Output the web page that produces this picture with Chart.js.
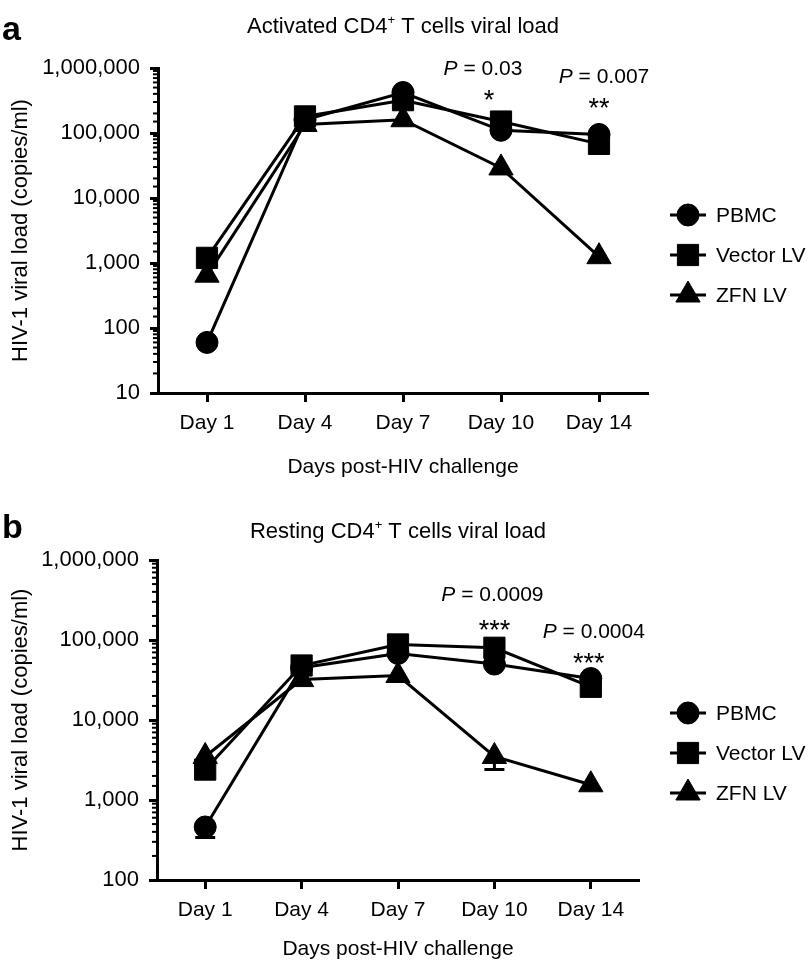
<!DOCTYPE html>
<html>
<head>
<meta charset="utf-8">
<script src="https://cdn.jsdelivr.net/npm/chart.js@4.4.1/dist/chart.umd.min.js"></script>
<style>
  body { margin: 0; background: #fff; }
  #wrap { position: relative; width: 812px; height: 966px; }
  canvas { position: absolute; left: 0; }
</style>
</head>
<body>
<div id="wrap">
  <canvas id="chartA" width="812" height="480" style="top:0"></canvas>
  <canvas id="chartB" width="812" height="486" style="top:480px"></canvas>
</div>
<script>
// categories + series names
const days = ['Day 1', 'Day 4', 'Day 7', 'Day 10', 'Day 14'];
const seriesNames = ['PBMC', 'Vector LV', 'ZFN LV'];
const seriesShapes = ['circle', 'rect', 'triangle'];

// a: activated CD4+ T cells (copies/ml)
const activatedPBMC = [60, 160000, 420000, 110000, 95000];
const activatedVector = [1200, 180000, 320000, 150000, 68000];
const activatedZFN = [650, 135000, 160000, 29000, 1250];
const activatedMin = 10;
const activatedP = ['0.03', '0.007'];
const activatedStars = ['*', '**'];

// b: resting CD4+ T cells (copies/ml)
const restingPBMC = [460, 45000, 68000, 50000, 33000];
const restingVector = [2400, 48000, 88000, 80000, 26000];
const restingZFN = [3500, 32000, 36000, 3500, 1550];
const restingPBMCLow = [340, null, null, null, null];   // lower error bar
const restingZFNLow = [null, null, null, 2400, null];
const restingMin = 100;
const restingP = ['0.0009', '0.0004'];
const restingStars = ['***', '***'];

const yMax = 1000000;
const starDays = [3, 4]; // Day 10, Day 14

const FAM = '"Liberation Sans", Arial, Helvetica, sans-serif';
Chart.defaults.font.family = FAM;
Chart.defaults.color = '#000';

const pointRadii = { circle: 11, rect: 15, triangle: 14 };

function isPow10(v) {
  const l = Math.log10(v);
  return Math.abs(l - Math.round(l)) < 1e-9;
}

function drawMarker(ctx, style, x, y) {
  const r = pointRadii[style];
  if (Chart.helpers && Chart.helpers.drawPoint) {
    Chart.helpers.drawPoint(ctx, { pointStyle: style, radius: r, rotation: 0, borderWidth: 1 }, x, y);
    return;
  }
  ctx.beginPath();
  if (style === 'circle') ctx.arc(x, y, r, 0, Math.PI * 2);
  else if (style === 'rect') { const s = r * Math.SQRT1_2; ctx.rect(x - s, y - s, 2 * s, 2 * s); }
  else { ctx.moveTo(x, y - r); ctx.lineTo(x + r * 0.866, y + r / 2); ctx.lineTo(x - r * 0.866, y + r / 2); ctx.closePath(); }
  ctx.fill(); ctx.stroke();
}

function makeDataset(label, values, shape, low) {
  return {
    label: label,
    data: values,
    errLow: low || null,
    borderColor: '#000',
    backgroundColor: '#000',
    borderWidth: 3,
    tension: 0,
    pointStyle: shape,
    pointRadius: pointRadii[shape],
    pointHoverRadius: pointRadii[shape],
    pointBackgroundColor: '#000',
    pointBorderColor: '#000',
    pointBorderWidth: 1
  };
}

// error bars (lower caps), minor log ticks, titles, annotations, legend
const decorPlugin = {
  id: 'decor',
  beforeDatasetsDraw(chart) {
    const ctx = chart.ctx, x = chart.scales.x, y = chart.scales.y;
    ctx.save();
    ctx.strokeStyle = '#000';
    ctx.lineWidth = 3;
    chart.data.datasets.forEach(ds => {
      if (!ds.errLow) return;
      ds.errLow.forEach((lo, i) => {
        if (lo == null) return;
        const px = x.getPixelForValue(i);
        const p0 = y.getPixelForValue(ds.data[i]);
        const p1 = y.getPixelForValue(lo);
        ctx.beginPath();
        ctx.moveTo(px, p0); ctx.lineTo(px, p1);
        ctx.moveTo(px - 10, p1); ctx.lineTo(px + 10, p1);
        ctx.stroke();
      });
    });
    ctx.restore();
  },
  afterDraw(chart, args, opts) {
    const ctx = chart.ctx, area = chart.chartArea;
    const x = chart.scales.x, y = chart.scales.y;
    ctx.save();
    ctx.fillStyle = '#000';
    ctx.strokeStyle = '#000';

    // minor ticks on the log axis
    ctx.lineWidth = 2;
    y.ticks.forEach(t => {
      if (isPow10(t.value)) return;
      const py = y.getPixelForValue(t.value);
      ctx.beginPath();
      ctx.moveTo(area.left - 5, py); ctx.lineTo(area.left, py);
      ctx.stroke();
    });

    // panel letter
    ctx.font = 'bold 34px ' + FAM;
    ctx.textAlign = 'left';
    ctx.textBaseline = 'alphabetic';
    ctx.fillText(opts.letter, 2, opts.letterY);

    // title with superscript
    const cx = (area.left + area.right) / 2;
    const before = opts.titleLead + ' CD4', sup = '+', after = ' T cells viral load';
    ctx.font = '22px ' + FAM;
    const w1 = ctx.measureText(before).width, w3 = ctx.measureText(after).width;
    ctx.font = '13px ' + FAM;
    const w2 = ctx.measureText(sup).width;
    let tx = cx - (w1 + w2 + w3) / 2;
    ctx.font = '22px ' + FAM;
    ctx.fillText(before, tx, opts.titleY);
    ctx.font = '13px ' + FAM;
    ctx.fillText(sup, tx + w1, opts.titleY - 9);
    ctx.font = '22px ' + FAM;
    ctx.fillText(after, tx + w1 + w2, opts.titleY);

    // P values and stars
    opts.pTexts.forEach((pv, k) => {
      const px = x.getPixelForValue(starDays[k]) + opts.pDx[k];
      ctx.font = 'italic 21px ' + FAM;
      const wp = ctx.measureText('P').width;
      ctx.font = '21px ' + FAM;
      const rest = ' = ' + pv;
      const wr = ctx.measureText(rest).width;
      const sx = px - (wp + wr) / 2;
      ctx.textBaseline = 'middle';
      ctx.textAlign = 'left';
      ctx.font = 'italic 21px ' + FAM;
      ctx.fillText('P', sx, area.top + opts.pDy[k]);
      ctx.font = '21px ' + FAM;
      ctx.fillText(rest, sx + wp, area.top + opts.pDy[k]);
      ctx.textAlign = 'center';
      ctx.font = '27px ' + FAM;
      ctx.fillText(opts.stars[k], x.getPixelForValue(starDays[k]) + opts.sDx[k], area.top + opts.sDy[k] + 3);
    });

    // legend: line through marker
    ctx.textAlign = 'left';
    ctx.textBaseline = 'middle';
    ctx.font = '21px ' + FAM;
    chart.data.datasets.forEach((ds, i) => {
      const ly = opts.legendY + i * 40;
      ctx.lineWidth = 3;
      ctx.beginPath();
      ctx.moveTo(670, ly); ctx.lineTo(706, ly);
      ctx.stroke();
      ctx.lineWidth = 1;
      drawMarker(ctx, ds.pointStyle, 688, ly);
      ctx.fillText(ds.label, 716, ly + 1);
    });
    ctx.restore();
  }
};

function makePanel(id, series, lows, yMin, panel) {
  const datasets = series.map((vals, i) => makeDataset(seriesNames[i], vals, seriesShapes[i], lows[i]));
  return new Chart(document.getElementById(id), {
    type: 'line',
    data: { labels: days, datasets: datasets },
    plugins: [decorPlugin],
    options: {
      responsive: false,
      animation: false,
      layout: { padding: { top: panel.top, right: panel.right, left: 0, bottom: 0 } },
      plugins: {
        legend: { display: false },
        title: { display: false },
        tooltip: { enabled: false },
        decor: panel
      },
      scales: {
        x: {
          type: 'category',
          offset: true,
          grid: { display: true, drawOnChartArea: false, drawTicks: true, tickLength: 9, tickWidth: 3, tickColor: '#000', offset: false },
          border: { display: true, color: '#000', width: 3 },
          ticks: { color: '#000', font: { size: 21 }, padding: 9, maxRotation: 0, autoSkip: false },
          title: { display: true, text: 'Days post-HIV challenge', color: '#000', font: { size: 21 }, padding: { top: 0, bottom: panel.xTitlePad } },
          afterFit(s) { s.height = panel.xHeight; }
        },
        y: {
          type: 'logarithmic',
          min: yMin,
          max: yMax,
          grid: {
            display: true, drawOnChartArea: false, drawTicks: true, tickLength: 8,
            tickWidth: c => (c.tick && isPow10(c.tick.value)) ? 3 : 0,
            tickColor: c => (c.tick && isPow10(c.tick.value)) ? '#000' : 'rgba(0,0,0,0)'
          },
          border: { display: true, color: '#000', width: 3 },
          ticks: {
            autoSkip: false,
            color: '#000',
            font: { size: 22 },
            padding: 10,
            callback: v => isPow10(v) ? Number(v).toLocaleString('en-US') : ''
          },
          title: { display: true, text: 'HIV-1 viral load (copies/ml)', color: '#000', font: { size: 22 }, padding: { top: 8, bottom: 0 } },
          afterFit(s) { s.width = panel.yWidth; }
        }
      }
    }
  });
}

makePanel('chartA',
  [activatedPBMC, activatedVector, activatedZFN],
  [null, null, null],
  activatedMin,
  {
    top: 68, right: 164, yWidth: 158, xHeight: 87, xTitlePad: 0,
    letter: 'a', letterY: 40, titleLead: 'Activated', titleY: 33,
    pTexts: activatedP, stars: activatedStars,
    pDx: [-18, 5], pDy: [1, 9], sDx: [-12, 0], sDy: [31, 39],
    legendY: 215
  });

makePanel('chartB',
  [restingPBMC, restingVector, restingZFN],
  [restingPBMCLow, null, restingZFNLow],
  restingMin,
  {
    top: 80, right: 173, yWidth: 157, xHeight: 86, xTitlePad: 4,
    letter: 'b', letterY: 58, titleLead: 'Resting', titleY: 58,
    pTexts: restingP, stars: restingStars,
    pDx: [-2, 3], pDy: [35, 72], sDx: [0, -2], sDy: [69, 102],
    legendY: 233
  });
</script>
</body>
</html>
